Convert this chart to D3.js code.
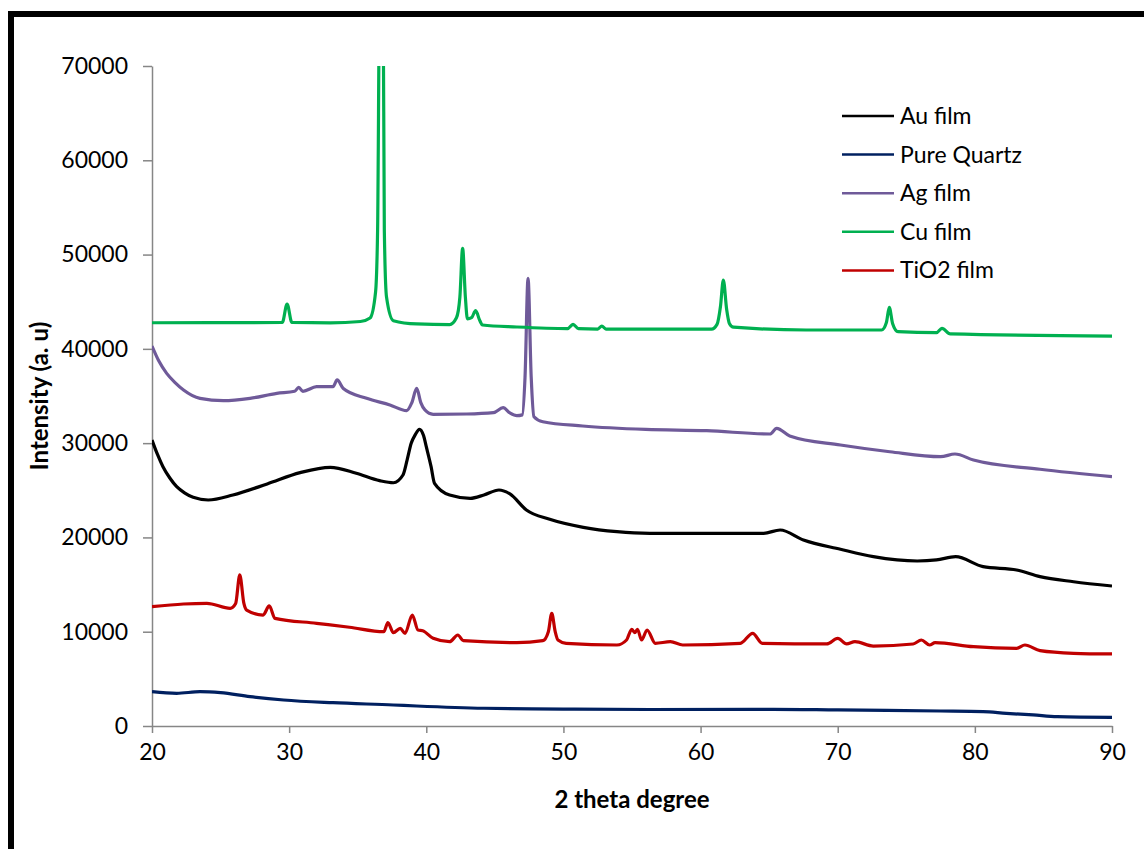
<!DOCTYPE html>
<html>
<head>
<meta charset="utf-8">
<script src="https://cdn.jsdelivr.net/npm/d3@7"></script>
<style>
  body { margin: 0; background: #fff; }
  text { font-family: Lato, "Open Sans", sans-serif; fill: #000; }
</style>
</head>
<body>
<script>
// series names and colours (legend order)
var seriesNames = ["Au film", "Pure Quartz", "Ag film", "Cu film", "TiO2 film"];
var seriesColors = ["#000000", "#002060", "#6f5a99", "#00b050", "#c00000"];

// [2 theta, intensity]
var auFilm = [[20,30330],[20.4,28800],[20.8,27500],[21.3,26300],[21.8,25380],[22.4,24700],[23.0,24250],[24.1,23970],[25.9,24500],[28.4,25670],[30.8,26870],
  [33.0,27440],[34.9,26800],[36.6,26020],[37.6,25800],[38.3,26620],[38.6,28200],[38.9,29980],[39.2,30900],[39.5,31470],
  [39.8,30800],[40.0,29620],[40.35,27500],[40.6,25740],[41.7,24500],[43.2,24150],[44.2,24500],[45.3,25030],[46.1,24610],
  [47.3,22910],[49.0,21920],[51.45,21070],[53.9,20610],[56.3,20440],[60.45,20440],[64.6,20440],[65.8,20790],[67.5,19730],
  [70.2,18740],[72.6,17960],[75.8,17500],[77.2,17610],[78.6,17960],[80.6,16900],[83.05,16550],[84.75,15840],[87.2,15300],[90,14850]];

var pureQuartz = [[20,3640],[21.8,3470],[23.5,3640],[25.0,3530],[27.15,3110],[29.6,2760],[33.2,2470],[37.6,2230],
  [39.3,2120],[44.2,1880],[50,1800],[56.3,1750],[65.3,1770],[70,1700],[77.5,1590],[80.6,1520],[82.3,1340],[84.25,1170],
  [86,990],[90,920]];

var agFilm = [[20,40300],[20.5,38700],[21.07,37400],[21.7,36400],[22.3,35640],[23.5,34750],[25.2,34500],[27.15,34750],[29.1,35280],[30.4,35500],
  [30.7,35920],[31.0,35500],[32,35990],[33.2,36000],[33.5,36700],[33.95,35800],[35.65,34750],[37.35,34050],[38.57,33450],
  [38.95,34300],[39.3,35800],[39.6,34300],[39.9,33520],[40.5,33060],[42.95,33090],[44.9,33230],[45.6,33760],[46.1,33200],
  [46.6,32910],[47.0,33000],[47.2,37000],[47.42,47480],[47.65,37000],[47.85,32800],[48.5,32270],[51.4,31820],[56,31450],
  [60.45,31320],[65.06,30970],[65.55,31570],[66.5,30760],[70.2,29800],[73.8,29090],[77.5,28560],[78.55,28850],[79.9,28210],
  [84.75,27230],[90,26440]];

var cuFilm = [[20,42770],[29.5,42800],[29.85,44760],[30.2,42800],[33,42750],[35.2,42900],[35.9,43270],[36.3,46000],
  [36.45,52600],[36.6,78000],[36.85,78000],[36.94,52600],[37.1,45500],[37.6,42990],[39.3,42640],[41.7,42570],[42.2,43300],
  [42.45,45500],[42.65,50660],[42.85,45500],[43.0,43170],[43.3,43300],[43.6,44050],[43.9,43000],[44.1,42530],[46.6,42320],
  [50.3,42150],[50.7,42600],[51.1,42150],[52.5,42100],[52.8,42420],[53.1,42100],[56.3,42100],[60.8,42100],[61.2,42600],
  [61.45,44500],[61.66,47300],[61.9,44200],[62.1,42700],[62.4,42300],[67.7,42000],[73.2,42000],[73.55,42800],[73.76,44400],
  [74.0,42700],[74.4,41820],[77.2,41720],[77.6,42180],[78.2,41580],[90,41360]];

var tio2Film = [[20,12650],[22.3,12940],[24,13010],[25.7,12480],[26.1,13000],[26.4,16020],[26.7,13000],[26.9,12300],
  [28.1,11770],[28.55,12730],[28.97,11420],[32.0,10890],[34.4,10470],[36.9,10000],[37.2,10960],[37.6,9900],[38.1,10360],
  [38.45,9830],[38.98,11770],[39.4,10180],[39.74,10110],[40.5,9300],[41.7,8940],[42.3,9650],[42.7,9050],[46.6,8840],
  [48.5,9050],[48.9,10000],[49.15,11950],[49.4,10000],[49.6,9120],[50.2,8770],[53.9,8590],[54.6,9120],[54.98,10260],
  [55.2,9900],[55.4,10260],[55.7,9120],[56.1,10180],[56.7,8770],[57.8,8940],[58.7,8590],[62.9,8770],[63.8,9830],[64.5,8770],
  [69.2,8700],[70.0,9300],[70.65,8700],[71.26,8940],[72.6,8480],[75.5,8700],[76.1,9120],[76.7,8590],[77.1,8840],[79.9,8410],
  [83.05,8240],[83.65,8590],[84.75,7990],[87.2,7710],[90,7640]];

var xTicks = [20, 30, 40, 50, 60, 70, 80, 90];
var yTicks = [0, 10000, 20000, 30000, 40000, 50000, 60000, 70000];

var allSeries = [auFilm, pureQuartz, agFilm, cuFilm, tio2Film];

var width = 1144, height = 849;
var margin = {left: 152, right: 32, top: 66, bottom: 123};

var svg = d3.select("body").append("svg")
    .attr("width", width)
    .attr("height", height);

// thick outer frame (runs off the right and bottom edges)
svg.append("rect")
    .attr("x", 11).attr("y", 14)
    .attr("width", 1300).attr("height", 1000)
    .attr("fill", "none")
    .attr("stroke", "#000")
    .attr("stroke-width", 6);

var x = d3.scaleLinear().domain([20, 90]).range([margin.left, width - margin.right]);
var y = d3.scaleLinear().domain([0, 70000]).range([height - margin.bottom, margin.top]);

svg.append("clipPath").attr("id", "plot")
  .append("rect")
    .attr("x", margin.left).attr("y", margin.top)
    .attr("width", width - margin.left - margin.right)
    .attr("height", height - margin.top - margin.bottom);

// axes
var xAxis = svg.append("g")
    .attr("transform", "translate(0," + y(0) + ")")
    .call(d3.axisBottom(x).tickValues(xTicks).tickSize(7).tickPadding(11).tickSizeOuter(0));
var yAxis = svg.append("g")
    .attr("transform", "translate(" + x(20) + ",0)")
    .call(d3.axisLeft(y).tickValues(yTicks).tickSize(9).tickPadding(15).tickSizeOuter(0).tickFormat(d3.format("d")));

[xAxis, yAxis].forEach(function(a) {
  a.select(".domain").attr("stroke", "#868686").attr("stroke-width", 1.5);
  a.selectAll(".tick line").attr("stroke", "#868686").attr("stroke-width", 1.5);
  a.selectAll(".tick text").style("font-family", "Lato, 'Open Sans', sans-serif").style("font-size", "23px").attr("fill", "#000");
});

// data lines
var line = d3.line()
    .curve(d3.curveMonotoneX)
    .x(function(d) { return x(d[0]); })
    .y(function(d) { return y(d[1]); });

svg.append("g").attr("clip-path", "url(#plot)")
  .selectAll("path")
  .data(allSeries)
  .enter().append("path")
    .attr("d", line)
    .attr("fill", "none")
    .attr("stroke", function(d, i) { return seriesColors[i]; })
    .attr("stroke-width", 3.2)
    .attr("stroke-linejoin", "round");

// axis titles
svg.append("text")
    .attr("x", (x(20) + x(90)) / 2)
    .attr("y", 808)
    .attr("text-anchor", "middle")
    .style("font-size", "24px")
    .style("font-weight", "bold")
    .text("2 theta degree");

svg.append("text")
    .attr("transform", "translate(48," + (y(35000)) + ") rotate(-90)")
    .attr("text-anchor", "middle")
    .style("font-size", "24px")
    .style("font-weight", "bold")
    .text("Intensity (a. u)");

// legend
var legend = svg.append("g").attr("transform", "translate(842,116)");
var rows = legend.selectAll("g")
  .data(seriesNames)
  .enter().append("g")
    .attr("transform", function(d, i) { return "translate(0," + (i * 38.6) + ")"; });
rows.append("line")
    .attr("x1", 0).attr("x2", 52)
    .attr("stroke", function(d, i) { return seriesColors[i]; })
    .attr("stroke-width", 2.5);
rows.append("text")
    .attr("x", 58).attr("y", 8)
    .style("font-size", "23px")
    .text(function(d) { return d; });
</script>
</body>
</html>
